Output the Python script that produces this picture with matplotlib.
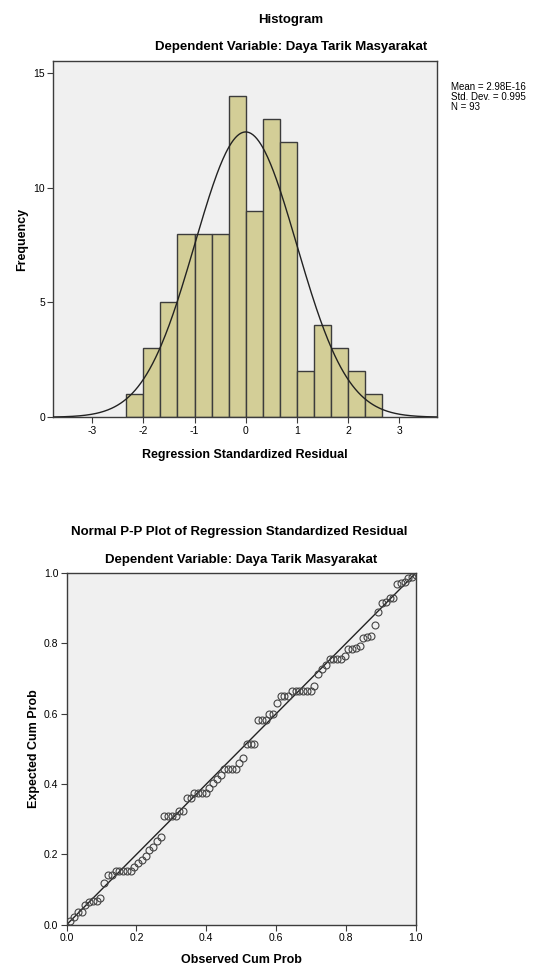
import numpy as np
import matplotlib
matplotlib.use("Agg")
import matplotlib.pyplot as plt

plt.rcParams['font.family'] = ['Liberation Sans', 'DejaVu Sans']
plt.rcParams['axes.unicode_minus'] = False

# histogram of standardized residuals
bin_edges = [-2.333, -2.0, -1.667, -1.333, -1.0, -0.667, -0.333, 0.0,
             0.333, 0.667, 1.0, 1.333, 1.667, 2.0, 2.333, 2.667]
bin_counts = [1, 3, 5, 8, 8, 8, 14, 9, 13, 12, 2, 4, 3, 2, 1]
res_mean = 2.98e-16
res_std = 0.995
n_obs = 93

# P-P plot points
obs_cum_prob = [0.011, 0.022, 0.032, 0.043, 0.054, 0.065, 0.075, 0.086, 0.097, 0.108,
                0.118, 0.129, 0.140, 0.151, 0.161, 0.172, 0.183, 0.194, 0.204, 0.215,
                0.226, 0.237, 0.247, 0.258, 0.269, 0.280, 0.290, 0.301, 0.312, 0.323,
                0.333, 0.344, 0.355, 0.366, 0.376, 0.387, 0.398, 0.409, 0.419, 0.430,
                0.441, 0.452, 0.462, 0.473, 0.484, 0.495, 0.505, 0.516, 0.527, 0.538,
                0.548, 0.559, 0.570, 0.581, 0.591, 0.602, 0.613, 0.624, 0.634, 0.645,
                0.656, 0.667, 0.677, 0.688, 0.699, 0.710, 0.720, 0.731, 0.742, 0.753,
                0.763, 0.774, 0.785, 0.796, 0.806, 0.817, 0.828, 0.839, 0.849, 0.860,
                0.871, 0.882, 0.892, 0.903, 0.914, 0.925, 0.935, 0.946, 0.957, 0.968,
                0.978, 0.989, 1.000]
exp_cum_prob = [0.011, 0.023, 0.035, 0.037, 0.056, 0.065, 0.068, 0.068, 0.077, 0.120,
                0.141, 0.141, 0.154, 0.154, 0.154, 0.154, 0.154, 0.165, 0.176, 0.184,
                0.195, 0.212, 0.220, 0.238, 0.249, 0.309, 0.309, 0.309, 0.309, 0.324,
                0.324, 0.360, 0.360, 0.374, 0.374, 0.374, 0.374, 0.390, 0.402, 0.414,
                0.426, 0.443, 0.443, 0.443, 0.443, 0.459, 0.474, 0.514, 0.514, 0.514,
                0.582, 0.582, 0.582, 0.599, 0.599, 0.630, 0.651, 0.651, 0.651, 0.666,
                0.666, 0.666, 0.666, 0.666, 0.666, 0.680, 0.713, 0.727, 0.739, 0.755,
                0.755, 0.755, 0.755, 0.765, 0.783, 0.783, 0.786, 0.793, 0.816, 0.819,
                0.822, 0.853, 0.889, 0.914, 0.917, 0.930, 0.930, 0.968, 0.971, 0.976,
                0.985, 0.990, 0.995]

bg = '#f0f0f0'
edge = '#3c3c3c'
bar_col = '#d3ce97'

fig = plt.figure(figsize=(5.33, 9.68), dpi=100)

# ---- histogram ----
ax1 = fig.add_axes([0.100, 0.569, 0.720, 0.368])
ax1.set_facecolor(bg)
widths = np.diff(bin_edges)
ax1.bar(bin_edges[:-1], bin_counts, width=widths, align='edge',
        color=bar_col, edgecolor=edge, linewidth=1.0, zorder=2)
xs = np.linspace(-3.8, 3.8, 400)
bw = widths.mean()
dens = n_obs * bw / (res_std * np.sqrt(2 * np.pi)) * np.exp(-0.5 * ((xs - res_mean) / res_std) ** 2)
ax1.plot(xs, dens, color='#222222', linewidth=1.0, zorder=3)
ax1.set_xlim(-3.76, 3.74)
ax1.set_ylim(0, 15.52)
ax1.set_xticks([-3, -2, -1, 0, 1, 2, 3])
ax1.set_yticks([0, 5, 10, 15])
ax1.set_xlabel('Regression Standardized Residual', fontsize=9, fontweight='bold', labelpad=10)
ax1.set_ylabel('Frequency', fontsize=9, fontweight='bold', labelpad=4)
fig.text(0.546, 0.979, 'Histogram', ha='center', va='center', fontsize=9.5, fontweight='bold')
fig.text(0.546, 0.951, 'Dependent Variable: Daya Tarik Masyarakat', ha='center', va='center',
         fontsize=9.5, fontweight='bold')
fig.text(0.846, 0.915, 'Mean = 2.98E-16\nStd. Dev. = 0.995\nN = 93', ha='left', va='top',
         fontsize=7, linespacing=1.0)

# ---- P-P plot ----
ax2 = fig.add_axes([0.125, 0.0447, 0.655, 0.3632])
ax2.set_facecolor(bg)
ax2.plot([0, 1], [0, 1], color='#222222', linewidth=1.0, zorder=2)
ax2.plot(obs_cum_prob, exp_cum_prob, linestyle='none', marker='o', markersize=5,
         markerfacecolor='none', markeredgecolor='#444444', markeredgewidth=0.8, zorder=3)
ax2.set_xlim(0, 1)
ax2.set_ylim(0, 1)
ticks = [0.0, 0.2, 0.4, 0.6, 0.8, 1.0]
ax2.set_xticks(ticks)
ax2.set_yticks(ticks)
ax2.set_xticklabels(['%.1f' % t for t in ticks])
ax2.set_yticklabels(['%.1f' % t for t in ticks])
ax2.set_xlabel('Observed Cum Prob', fontsize=9, fontweight='bold', labelpad=8)
ax2.set_ylabel('Expected Cum Prob', fontsize=9, fontweight='bold')
ax2.yaxis.set_label_coords(-0.075, 0.5)
fig.text(0.448, 0.450, 'Normal P-P Plot of Regression Standardized Residual', ha='center',
         va='center', fontsize=9.5, fontweight='bold')
fig.text(0.452, 0.421, 'Dependent Variable: Daya Tarik Masyarakat', ha='center', va='center',
         fontsize=9.5, fontweight='bold')

for ax in (ax1, ax2):
    for sp in ax.spines.values():
        sp.set_color(edge)
        sp.set_linewidth(1.0)
    ax.tick_params(labelsize=7.5, length=4, width=0.8, color=edge, pad=2)

fig.savefig('out.png', dpi=100, facecolor='white')
